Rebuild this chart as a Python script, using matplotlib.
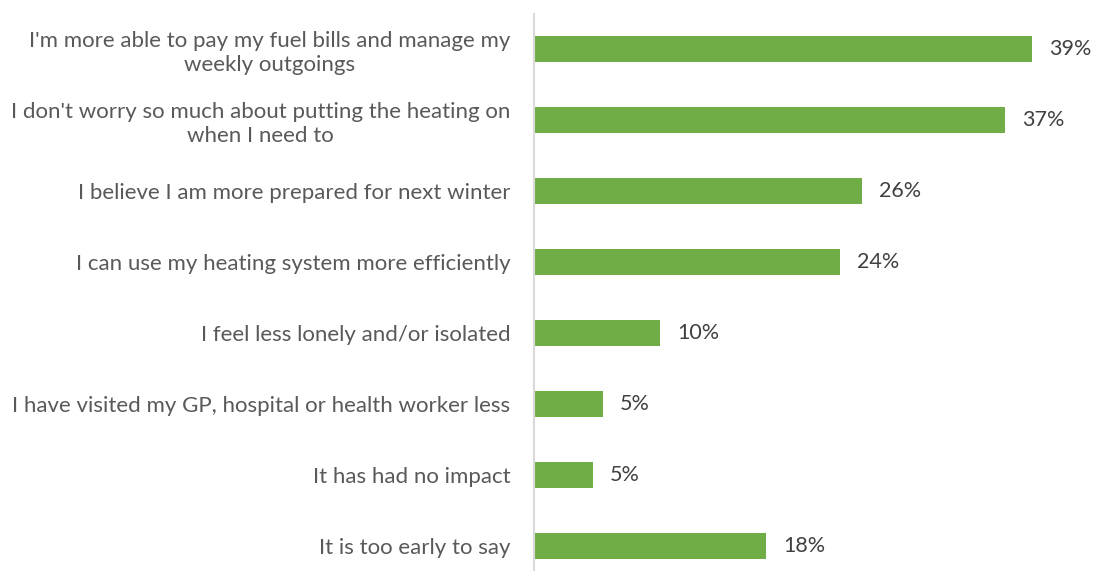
#!/usr/bin/env python3
# Horizontal bar chart: reported impacts (% of respondents).

import matplotlib
matplotlib.use('Agg')
import matplotlib.pyplot as plt

categories = [
    "I'm more able to pay my fuel bills and manage my\nweekly outgoings",
    "I don't worry so much about putting the heating on\nwhen I need to",
    "I believe I am more prepared for next winter",
    "I can use my heating system more efficiently",
    "I feel less lonely and/or isolated",
    "I have visited my GP, hospital or health worker less",
    "It has had no impact",
    "It is too early to say",
]
values = [39.0, 36.9, 25.7, 24.0, 9.9, 5.4, 4.6, 18.2]
value_labels = ['39%', '37%', '26%', '24%', '10%', '5%', '5%', '18%']

plt.rcParams['font.family'] = ['Lato', 'DejaVu Sans']

fig = plt.figure(figsize=(10.97, 5.71), dpi=100)
# axes placed in pixel terms: left edge at the axis line, bottom slightly below the canvas
W, H = 1097, 571
ax = fig.add_axes([534 / W, -10.5 / H, 556 / W, 568 / H])

ypos = list(range(len(categories)))
ax.barh(ypos, values, height=0.37, color='#70AD47')

for y, v, lab in zip(ypos, values, value_labels):
    ax.annotate(lab, (v, y), xytext=(12, 0), textcoords='offset points',
                va='center', ha='left', fontsize=15.5, color='#404040')

ax.set_xlim(0, 43.54)
ax.set_ylim(len(categories) - 0.5, -0.5)
ax.set_yticks(ypos)
ax.set_yticklabels(categories, fontsize=16, color='#595959',
                   multialignment='center', linespacing=1.25)
ax.tick_params(axis='y', length=0, pad=17)
ax.set_xticks([])

for side in ('top', 'right', 'bottom'):
    ax.spines[side].set_visible(False)
ax.spines['left'].set_color('#D9D9D9')
ax.spines['left'].set_linewidth(1.5)

fig.savefig('out.png', dpi=100)
